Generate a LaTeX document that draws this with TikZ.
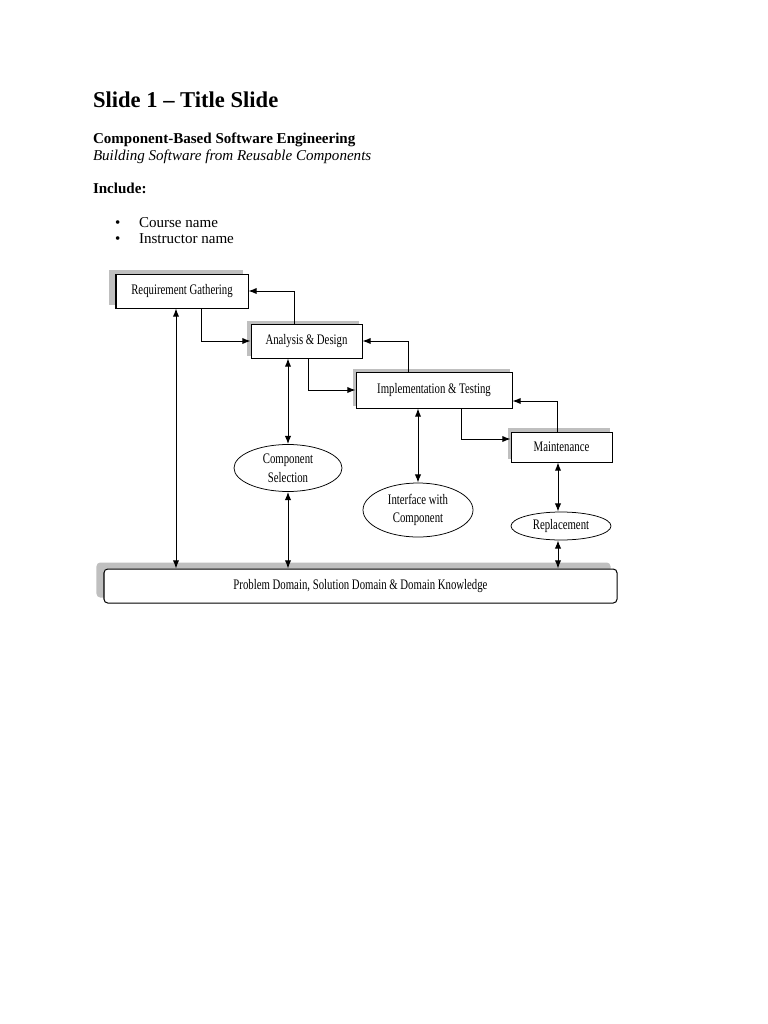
\documentclass[tikz,border=0pt]{standalone}
\usepackage{fontspec}
\setmainfont{Liberation Serif}
\newfontfamily\dfont[FakeStretch=0.74]{Liberation Serif}
\usetikzlibrary{arrows.meta,shapes.geometric,calc,backgrounds}
\def\u{0.796875pt}
\begin{document}
\begin{tikzpicture}[x=0.796875pt,y=-0.796875pt,
  txt/.style={anchor=base west,inner sep=0pt,outer sep=0pt,font=\fontsize{12}{14}\selectfont},
  dtext/.style={font=\dfont\fontsize{11.6}{15}\selectfont},
  box/.style={draw,line width=0.8pt,fill=white,inner sep=0pt,dtext},
  ell/.style={ellipse,draw,line width=0.6pt,fill=white,inner sep=0pt,align=center,dtext},
  shd/.style={fill=gray!50},
  arr/.style={line width=0.8pt,-{Latex[length=6.5pt,width=5pt]}},
  darr/.style={line width=0.8pt,{Latex[length=6.5pt,width=5pt]}-{Latex[length=6.5pt,width=5pt]}}]
\useasboundingbox (0,0) rectangle (768,1024);

% heading texts
\node[txt,font=\bfseries\fontsize{18}{22}\selectfont] (title) at (93,107) {Slide 1 – Title Slide};
\node[txt,font=\bfseries\fontsize{12}{14}\selectfont] (sub) at (93,143) {Component-Based Software Engineering};
\node[txt,font=\itshape\fontsize{12}{14}\selectfont] (tag) at (93,160) {Building Software from Reusable Components};
\node[txt,font=\bfseries\fontsize{12}{14}\selectfont] (inc) at (93,193) {Include:};
\node[txt] (b1) at (115,227) {•};
\node[txt] (i1) at (139,227) {Course name};
\node[txt] (b2) at (115,243) {•};
\node[txt] (i2) at (139,243) {Instructor name};

% boxes
\node[box,minimum width={132*\u},minimum height={34*\u}] (req) at (182,291) {Requirement Gathering};
\node[box,minimum width={111*\u},minimum height={34*\u}] (ana) at (306.5,341) {Analysis \& Design};
\node[box,minimum width={156*\u},minimum height={36*\u}] (impl) at (434,390) {Implementation \& Testing};
\node[box,minimum width={101*\u},minimum height={30*\u}] (maint) at (561.5,447) {Maintenance};
\node[box,rounded corners=3pt,minimum width={513*\u},minimum height={34*\u}] (bot) at (360.5,586) {Problem Domain, Solution Domain \& Domain Knowledge};

% ellipses
\node[ell,minimum width={108*\u},minimum height={47*\u}] (cs) at (288,468) {Component\\Selection};
\node[ell,minimum width={110*\u},minimum height={54*\u}] (ic) at (418,510) {Interface with\\Component};
\node[ell,minimum width={100*\u},minimum height={28*\u}] (rep) at (561,526) {Replacement};

% bend coordinates
\coordinate (k1) at (294,291);
\coordinate (k2) at (201,341);
\coordinate (k3) at (408,341);
\coordinate (k4) at (308,390);
\coordinate (k5) at (557,401);
\coordinate (k6) at (461,439);
\coordinate (k7) at (176,0);
\coordinate (k8) at (558,0);

% feedback / flow connectors
\draw[arr] (ana.north -| k1) |- (req.east);
\draw[arr] (req.south -| k2) |- (ana.west);
\draw[arr] (impl.north -| k3) |- (ana.east);
\draw[arr] (ana.south -| k4) |- (impl.west);
\draw[arr] (maint.north -| k5) -- (k5) -- (k5 -| impl.east);
\draw[arr] (impl.south -| k6) -- (k6) -- (k6 -| maint.west);

% vertical double arrows
\draw[darr] (req.south -| k7) -- (bot.north -| k7);
\draw[darr] (ana.south -| cs.north) -- (cs.north);
\draw[darr] (cs.south) -- (bot.north -| cs.south);
\draw[darr] (impl.south -| ic.north) -- (ic.north);
\draw[darr] (maint.south -| k8) -- (rep.north -| k8);
\draw[darr] (rep.south -| k8) -- (bot.north -| k8);

% shadows
\begin{scope}[on background layer]
\fill[white] (0,0) rectangle (768,1024);
\fill[shd] ([xshift=-6*\u,yshift=4*\u]req.south west) rectangle ([xshift=-6*\u,yshift=4*\u]req.north east);
\fill[shd] ([xshift=-4*\u,yshift=3*\u]ana.south west) rectangle ([xshift=-4*\u,yshift=3*\u]ana.north east);
\fill[shd] ([xshift=-3*\u,yshift=3*\u]impl.south west) rectangle ([xshift=-3*\u,yshift=3*\u]impl.north east);
\fill[shd] ([xshift=-3*\u,yshift=4*\u]maint.south west) rectangle ([xshift=-3*\u,yshift=4*\u]maint.north east);
\fill[shd,rounded corners=3pt] ([xshift=-7*\u,yshift=6*\u]bot.south west) rectangle ([xshift=-7*\u,yshift=6*\u]bot.north east);
\end{scope}
\end{tikzpicture}
\end{document}
